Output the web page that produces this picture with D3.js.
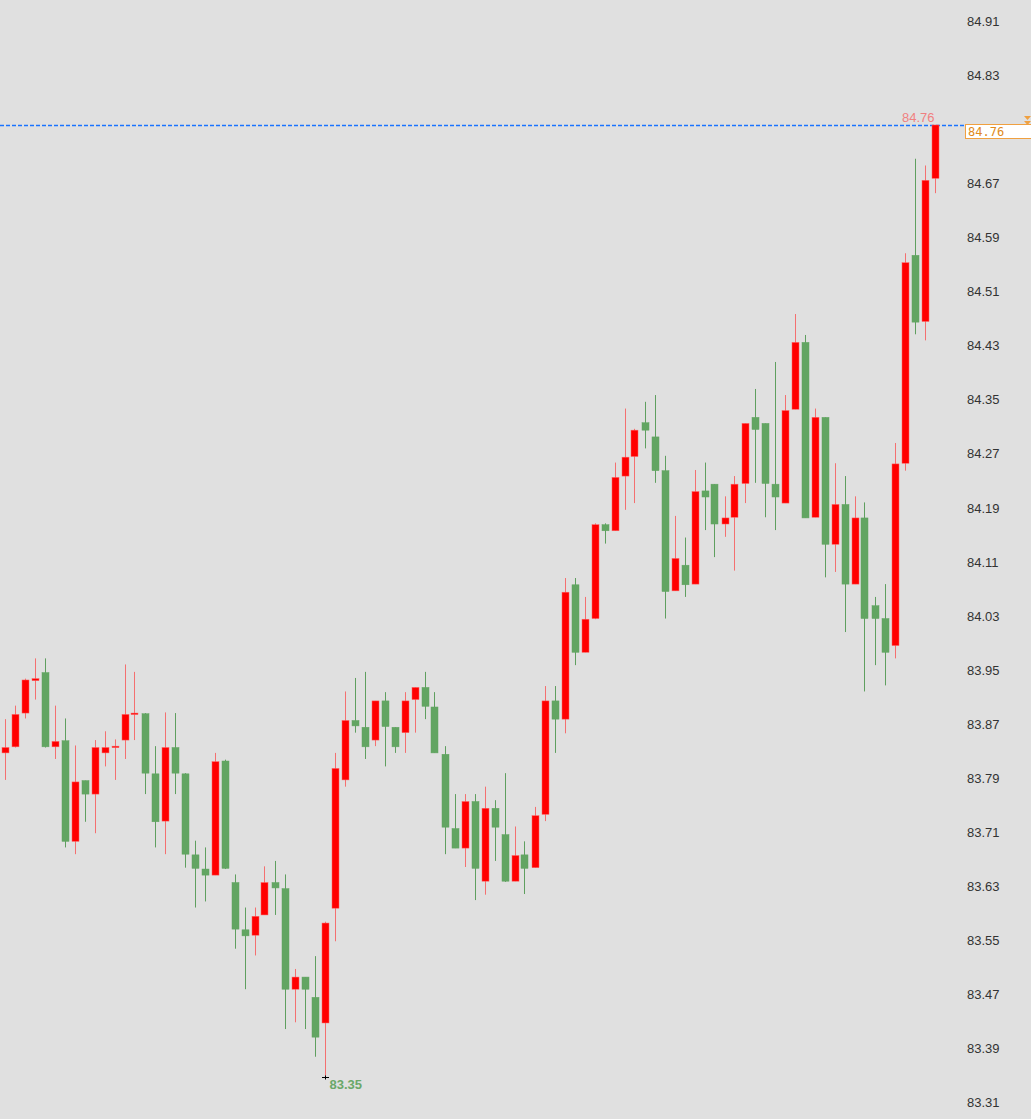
<!DOCTYPE html>
<html>
<head>
<meta charset="utf-8">
<script src="https://cdn.jsdelivr.net/npm/d3@7"></script>
<style>
  html, body { margin: 0; padding: 0; background: #e0e0e0; }
  svg { display: block; }
  .tick-label { font-family: "Liberation Sans", Arial, sans-serif; font-size: 13px; fill: #333; }
</style>
</head>
<body>
<svg id="chart"></svg>
<script>
// candle values, oldest first (red = close above open, green = close below open)
const opens = [
  83.830, 83.839, 83.889, 83.937, 83.949, 83.839, 83.848, 83.699, 83.789, 83.769,
  83.830, 83.838, 83.849, 83.887, 83.888, 83.799, 83.729, 83.838, 83.799, 83.679,
  83.658, 83.649, 83.818, 83.638, 83.568, 83.560, 83.590, 83.638, 83.629, 83.480,
  83.498, 83.468, 83.430, 83.600, 83.790, 83.878, 83.868, 83.849, 83.907, 83.868,
  83.860, 83.909, 83.927, 83.898, 83.828, 83.718, 83.689, 83.758, 83.640, 83.748,
  83.709, 83.640, 83.679, 83.660, 83.739, 83.907, 83.880, 84.079, 83.979, 84.029,
  84.168, 84.159, 84.240, 84.269, 84.319, 84.298, 84.248, 84.070, 84.108, 84.080,
  84.218, 84.228, 84.169, 84.179, 84.229, 84.327, 84.318, 84.228, 84.200, 84.339,
  84.438, 84.179, 84.327, 84.139, 84.198, 84.080, 84.178, 84.048, 84.029, 83.989,
  84.259, 84.567, 84.469, 84.681
];
const highs = [
  83.880, 83.900, 83.940, 83.970, 83.970, 83.900, 83.881, 83.841, 83.789, 83.849,
  83.862, 83.850, 83.961, 83.950, 83.889, 83.840, 83.890, 83.889, 83.800, 83.700,
  83.690, 83.830, 83.820, 83.650, 83.601, 83.601, 83.662, 83.670, 83.650, 83.510,
  83.498, 83.529, 83.580, 83.830, 83.921, 83.941, 83.950, 83.907, 83.920, 83.868,
  83.920, 83.927, 83.950, 83.920, 83.840, 83.769, 83.769, 83.769, 83.780, 83.760,
  83.800, 83.721, 83.699, 83.750, 83.929, 83.929, 84.089, 84.089, 84.061, 84.170,
  84.170, 84.260, 84.340, 84.310, 84.350, 84.360, 84.270, 84.181, 84.149, 84.249,
  84.260, 84.228, 84.210, 84.240, 84.318, 84.369, 84.318, 84.409, 84.360, 84.480,
  84.449, 84.340, 84.327, 84.259, 84.240, 84.210, 84.201, 84.061, 84.080, 84.289,
  84.570, 84.710, 84.700, 84.760
];
const lows = [
  83.790, 83.838, 83.881, 83.909, 83.838, 83.821, 83.690, 83.680, 83.728, 83.711,
  83.810, 83.790, 83.821, 83.849, 83.769, 83.690, 83.680, 83.769, 83.660, 83.601,
  83.610, 83.649, 83.658, 83.540, 83.480, 83.530, 83.590, 83.590, 83.421, 83.431,
  83.421, 83.380, 83.350, 83.551, 83.780, 83.860, 83.821, 83.840, 83.810, 83.830,
  83.830, 83.860, 83.880, 83.830, 83.680, 83.689, 83.661, 83.612, 83.620, 83.670,
  83.639, 83.640, 83.621, 83.660, 83.729, 83.830, 83.859, 83.960, 83.979, 84.028,
  84.140, 84.159, 84.190, 84.200, 84.281, 84.230, 84.029, 84.070, 84.061, 84.080,
  84.160, 84.120, 84.150, 84.100, 84.200, 84.230, 84.179, 84.160, 84.200, 84.339,
  84.178, 84.179, 84.090, 84.098, 84.009, 84.080, 83.921, 83.960, 83.930, 83.970,
  84.248, 84.450, 84.441, 84.659
];
const closes = [
  83.838, 83.887, 83.938, 83.940, 83.839, 83.847, 83.699, 83.787, 83.769, 83.838,
  83.838, 83.840, 83.887, 83.889, 83.800, 83.728, 83.838, 83.800, 83.680, 83.659,
  83.649, 83.817, 83.659, 83.569, 83.559, 83.588, 83.638, 83.630, 83.480, 83.498,
  83.480, 83.409, 83.578, 83.807, 83.878, 83.870, 83.839, 83.907, 83.869, 83.839,
  83.907, 83.927, 83.899, 83.830, 83.720, 83.689, 83.758, 83.659, 83.748, 83.720,
  83.640, 83.678, 83.659, 83.737, 83.907, 83.880, 84.068, 83.979, 84.028, 84.168,
  84.159, 84.238, 84.268, 84.308, 84.308, 84.248, 84.069, 84.118, 84.079, 84.217,
  84.209, 84.169, 84.178, 84.228, 84.318, 84.309, 84.229, 84.209, 84.337, 84.438,
  84.178, 84.327, 84.139, 84.198, 84.080, 84.178, 84.029, 84.029, 83.979, 84.258,
  84.556, 84.468, 84.678, 84.760
];

// right axis labels (84.75 sits under the last-price box)
const tickValues = [84.91, 84.83, 84.67, 84.59, 84.51, 84.43, 84.35, 84.27, 84.19, 84.11,
  84.03, 83.95, 83.87, 83.79, 83.71, 83.63, 83.55, 83.47, 83.39, 83.31];

const lastPrice = 84.76;
const lowPrice = 83.35;

class CandleChart {

    constructor(_config)
    {
        this.config = {
            parentElement: _config.parentElement,
            containerWidth: _config.containerWidth || 1031,
            containerHeight: _config.containerHeight || 1119
        };
        this.data = opens.map((o, i) => ({
            i: i, open: o, high: highs[i], low: lows[i], close: closes[i]
        }));
        this.initVis();
    }

    initVis()
    {
        let vis = this;

        vis.svg = d3.select(vis.config.parentElement)
            .attr('width', vis.config.containerWidth)
            .attr('height', vis.config.containerHeight);

        vis.svg.append('rect')
            .attr('width', vis.config.containerWidth)
            .attr('height', vis.config.containerHeight)
            .attr('fill', '#e0e0e0');

        // candle centres 10px apart
        vis.xScale = d3.scaleLinear()
            .domain([0, vis.data.length - 1])
            .range([5.5, 935.5]);

        vis.yScale = d3.scaleLinear()
            .domain([83.31, 84.91])
            .range([1104, 23.7]);

        vis.bodyWidth = 7;

        vis.renderVis();
    }

    renderVis()
    {
        let vis = this;
        const up = d => d.close >= d.open;

        // price axis on the right, text only
        const axis = d3.axisRight(vis.yScale)
            .tickValues(tickValues)
            .tickSize(0)
            .tickPadding(0)
            .tickFormat(d3.format('.2f'));

        const axisG = vis.svg.append('g')
            .attr('transform', 'translate(967,-2)')
            .call(axis);
        axisG.select('.domain').remove();
        axisG.selectAll('text')
            .attr('class', 'tick-label')
            .attr('fill', null);

        // last price line
        vis.svg.append('line')
            .attr('x1', 0)
            .attr('x2', 966)
            .attr('y1', Math.round(vis.yScale(lastPrice)) + 0.5)
            .attr('y2', Math.round(vis.yScale(lastPrice)) + 0.5)
            .attr('stroke', '#1a73ff')
            .attr('stroke-width', 1.4)
            .attr('stroke-dasharray', '4,2');

        const candles = vis.svg.append('g')
            .selectAll('g')
            .data(vis.data)
            .join('g');

        candles.append('line')
            .attr('x1', d => Math.round(vis.xScale(d.i)) - 0.5)
            .attr('x2', d => Math.round(vis.xScale(d.i)) - 0.5)
            .attr('y1', d => vis.yScale(d.high))
            .attr('y2', d => vis.yScale(d.low))
            .attr('stroke', d => up(d) ? '#f47070' : '#5f9f5f')
            .attr('stroke-width', 1);

        candles.append('rect')
            .attr('x', d => Math.round(vis.xScale(d.i)) - 4)
            .attr('y', d => vis.yScale(Math.max(d.open, d.close)))
            .attr('width', vis.bodyWidth)
            .attr('height', d => Math.max(1.5, Math.abs(vis.yScale(d.open) - vis.yScale(d.close))))
            .attr('fill', d => up(d) ? '#ff0000' : '#62a562')
            .attr('stroke', d => up(d) ? '#ff6060' : '#62a562')
            .attr('stroke-width', 0.5);

        // high and low markers
        const last = vis.data[vis.data.length - 1];
        vis.svg.append('text')
            .attr('class', 'tick-label')
            .attr('x', vis.xScale(last.i) - 1)
            .attr('y', vis.yScale(lastPrice) - 8)
            .attr('dy', '0.35em')
            .attr('text-anchor', 'end')
            .style('fill', '#f08080')
            .text(d3.format('.2f')(lastPrice));

        const lowIdx = d3.minIndex(vis.data, d => d.low);
        const lx = Math.round(vis.xScale(lowIdx)) - 0.5;
        const ly = Math.round(vis.yScale(lowPrice)) + 0.5;
        vis.svg.append('path')
            .attr('d', `M${lx - 3.5},${ly}H${lx + 3.5}M${lx},${ly - 2}V${ly + 2}`)
            .attr('stroke', '#000')
            .attr('stroke-width', 1);
        vis.svg.append('text')
            .attr('class', 'tick-label')
            .attr('x', lx + 4)
            .attr('y', ly + 7)
            .attr('dy', '0.35em')
            .style('fill', '#6aa86a')
            .style('font-weight', 'bold')
            .text(d3.format('.2f')(lowPrice));

        // last price box on the axis
        const by = Math.round(vis.yScale(lastPrice));
        vis.svg.append('rect')
            .attr('x', 965.5)
            .attr('y', by - 0.5)
            .attr('width', 66)
            .attr('height', 14)
            .attr('fill', '#fff')
            .attr('stroke', '#f0a040');
        vis.svg.append('text')
            .attr('x', 968)
            .attr('y', by + 7)
            .attr('dy', '0.35em')
            .style('font-family', '"DejaVu Sans Mono", monospace')
            .style('font-size', '12px')
            .style('fill', '#e08a20')
            .text(d3.format('.2f')(lastPrice));

        // little orange marker at the right edge
        vis.svg.append('path')
            .attr('d', `M1024,${by - 9}h7l-3.5,4z M1024,${by - 4}h7l-3.5,4z`)
            .attr('fill', '#f0a040');
    }
}

new CandleChart({ parentElement: '#chart' });
</script>
</body>
</html>
